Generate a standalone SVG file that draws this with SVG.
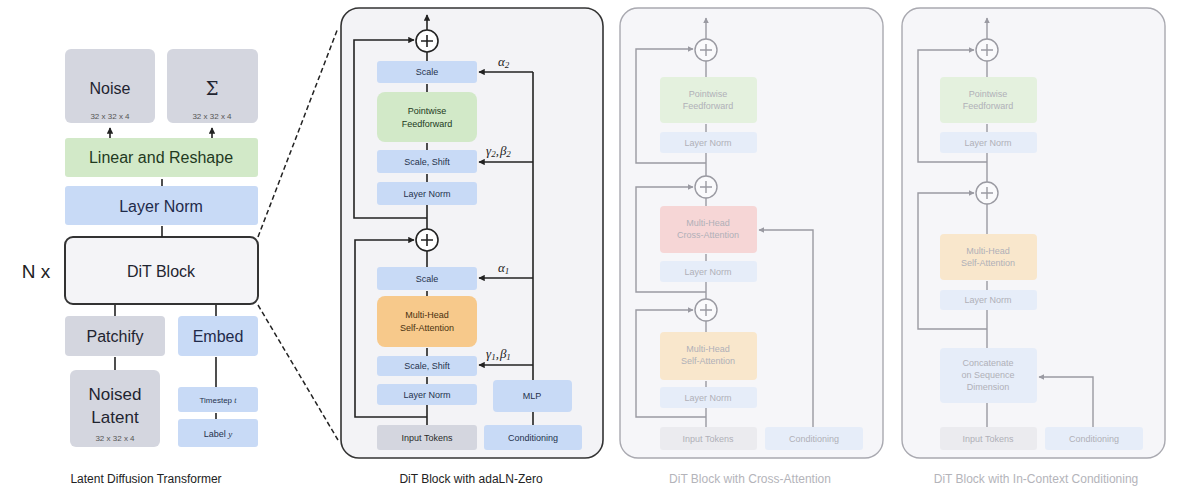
<svg xmlns="http://www.w3.org/2000/svg" width="1187" height="488" viewBox="0 0 1187 488">
  <defs>
    <marker id="ah" viewBox="0 0 10 10" refX="9" refY="5" markerWidth="4" markerHeight="4" orient="auto">
      <path d="M0,0 L10,5 L0,10 z" fill="#222"/>
    </marker>
    <marker id="ahf" viewBox="0 0 10 10" refX="9" refY="5" markerWidth="4" markerHeight="4" orient="auto">
      <path d="M0,0 L10,5 L0,10 z" fill="#9a9aa2"/>
    </marker>
    <style>
      text { font-family: "Liberation Sans", Arial, sans-serif; text-anchor: middle; }
      .gray { fill: #d4d6df; }
      .blue { fill: #c8daf6; }
      .green { fill: #d2e9c8; }
      .orange { fill: #f7c98b; }
      .big { font-size: 16px; fill: #1f2430; }
      .sz { font-size: 8px; fill: #555; }
      .sm { font-size: 9px; fill: #26324d; }
      .smd { font-size: 9px; fill: #2b2b2b; }
      .cap { font-size: 12px; fill: #222; }
      .capf { font-size: 12px; fill: #b4b4ba; }
      .ln { stroke: #222; stroke-width: 1.6; fill: none; }
      .lnf { stroke: #9a9aa2; stroke-width: 1.4; fill: none; }
      .dash { stroke: #222; stroke-width: 1.5; stroke-dasharray: 5 3; fill: none; }
      .greek { font-family: "Liberation Serif", "Times New Roman", serif; font-style: italic; font-size: 13px; fill: #222; text-anchor: start; }
      .sub { font-size: 9px; }
      .fblue { fill: #e6edf9; }
      .fgreen { fill: #e4f1de; }
      .fpink { fill: #f6d6d6; }
      .forange { fill: #f9e7cc; }
      .fgray { fill: #ebebef; }
      .ft { font-size: 9px; fill: #b0b0b8; }
      .plus { stroke: #222; stroke-width: 1.6; fill: #fff; }
      .plusf { stroke: #9a9aa2; stroke-width: 1.4; fill: #fafafc; }
    </style>
  </defs>

  <!-- ===== Latent Diffusion Transformer ===== -->
  <g id="noise">
    <rect class="gray" x="65" y="49" width="90" height="74" rx="6"/>
    <text class="big" x="110" y="94">Noise</text>
    <text class="sz" x="110" y="119">32 x 32 x 4</text>
  </g>
  <g id="sigma">
    <rect class="gray" x="167" y="49" width="91" height="74" rx="6"/>
    <text class="big" x="212" y="95" style="font-family:'DejaVu Serif',serif;font-size:18px">Σ</text>
    <text class="sz" x="212" y="119">32 x 32 x 4</text>
  </g>
  <g id="linear-reshape">
    <rect class="green" x="65" y="138" width="193" height="39" rx="3"/>
    <text class="big" x="161" y="163" style="fill:#1f3a1f">Linear and Reshape</text>
  </g>
  <g id="final-layer-norm">
    <rect class="blue" x="65" y="186" width="193" height="39" rx="3"/>
    <text class="big" x="161" y="212" style="fill:#1f2a4a">Layer Norm</text>
  </g>
  <g id="dit-block">
    <rect x="65" y="237" width="193" height="67" rx="8" fill="#f4f4f7" stroke="#333" stroke-width="2"/>
    <text class="big" x="161" y="277">DiT Block</text>
  </g>
  <g id="n-times">
    <text x="36" y="278" style="font-size:19px;fill:#222">N x</text>
  </g>
  <g id="patchify">
    <rect class="gray" x="65" y="316" width="100" height="40" rx="4"/>
    <text class="big" x="115" y="342">Patchify</text>
  </g>
  <g id="embed">
    <rect class="blue" x="178" y="316" width="80" height="40" rx="4"/>
    <text class="big" x="218" y="342" style="fill:#1f2a4a">Embed</text>
  </g>
  <g id="noised-latent">
    <rect class="gray" x="70" y="370" width="90" height="77" rx="6"/>
    <text x="115" y="400" style="font-size:17px;fill:#1f2430">Noised</text>
    <text x="115" y="423" style="font-size:17px;fill:#1f2430">Latent</text>
    <text class="sz" x="115" y="441">32 x 32 x 4</text>
  </g>
  <g id="timestep">
    <rect class="blue" x="178" y="387" width="80" height="25" rx="3"/>
    <text x="218" y="403" style="font-size:8px;fill:#26324d">Timestep <tspan style="font-family:'Liberation Serif',serif;font-style:italic">t</tspan></text>
  </g>
  <g id="label">
    <rect class="blue" x="178" y="419" width="80" height="28" rx="3"/>
    <text x="218" y="437" style="font-size:9px;fill:#26324d">Label <tspan style="font-family:'Liberation Serif',serif;font-style:italic">y</tspan></text>
  </g>
  <text class="cap" x="146" y="483">Latent Diffusion Transformer</text>

  <!-- ===== adaLN-Zero block ===== -->
  <g id="adaln-panel">
    <rect x="341" y="8" width="262" height="450" rx="18" fill="#f3f3f6" stroke="#333" stroke-width="1.6"/>
  </g>
  <g id="ada-add-2">
    <circle class="plus" cx="427" cy="41" r="11"/>
    <path d="M421,41 H433 M427,35 V47" stroke="#222" stroke-width="1.6"/>
  </g>
  <g id="ada-scale-2">
    <rect class="blue" x="377" y="61" width="100" height="22" rx="3"/>
    <text class="sm" x="427" y="75">Scale</text>
  </g>
  <g id="ada-ffn">
    <rect class="green" x="377" y="92" width="100" height="50" rx="8"/>
    <text class="smd" x="427" y="114" style="fill:#213a21">Pointwise</text>
    <text class="smd" x="427" y="127" style="fill:#213a21">Feedforward</text>
  </g>
  <g id="ada-scaleshift-2">
    <rect class="blue" x="377" y="150" width="100" height="23" rx="3"/>
    <text class="sm" x="427" y="165">Scale, Shift</text>
  </g>
  <g id="ada-ln-2">
    <rect class="blue" x="377" y="182" width="100" height="23" rx="3"/>
    <text class="sm" x="427" y="197">Layer Norm</text>
  </g>
  <g id="ada-add-1">
    <circle class="plus" cx="427" cy="240" r="11"/>
    <path d="M421,240 H433 M427,234 V246" stroke="#222" stroke-width="1.6"/>
  </g>
  <g id="ada-scale-1">
    <rect class="blue" x="377" y="267" width="100" height="23" rx="3"/>
    <text class="sm" x="427" y="282">Scale</text>
  </g>
  <g id="ada-attn">
    <rect class="orange" x="377" y="296" width="100" height="51" rx="8"/>
    <text class="smd" x="427" y="318" style="fill:#4a3210">Multi-Head</text>
    <text class="smd" x="427" y="331" style="fill:#4a3210">Self-Attention</text>
  </g>
  <g id="ada-scaleshift-1">
    <rect class="blue" x="377" y="356" width="100" height="20" rx="3"/>
    <text class="sm" x="427" y="369">Scale, Shift</text>
  </g>
  <g id="ada-ln-1">
    <rect class="blue" x="377" y="384" width="100" height="21" rx="3"/>
    <text class="sm" x="427" y="398">Layer Norm</text>
  </g>
  <g id="ada-input">
    <rect class="gray" x="377" y="425" width="100" height="25" rx="3"/>
    <text class="smd" x="427" y="441">Input Tokens</text>
  </g>
  <g id="ada-mlp">
    <rect class="blue" x="493" y="380" width="79" height="32" rx="4"/>
    <text class="sm" x="532" y="399">MLP</text>
  </g>
  <g id="ada-cond">
    <rect class="blue" x="484" y="425" width="98" height="25" rx="3"/>
    <text class="sm" x="533" y="441">Conditioning</text>
  </g>
  <g id="ada-labels">
    <text class="greek" x="498" y="66">α<tspan class="sub" dy="2">2</tspan></text>
    <text class="greek" x="486" y="155">γ<tspan class="sub" dy="2">2</tspan><tspan dy="-2">,</tspan><tspan dx="1">β</tspan><tspan class="sub" dy="2">2</tspan></text>
    <text class="greek" x="498" y="272">α<tspan class="sub" dy="2">1</tspan></text>
    <text class="greek" x="486" y="358">γ<tspan class="sub" dy="2">1</tspan><tspan dy="-2">,</tspan><tspan dx="1">β</tspan><tspan class="sub" dy="2">1</tspan></text>
  </g>
  <text class="cap" x="471" y="483">DiT Block with adaLN-Zero</text>

  <!-- ===== Cross-Attention block (faded) ===== -->
  <g id="xattn-panel">
    <rect x="620" y="8" width="263" height="450" rx="18" fill="#f6f6f9" stroke="#a9a9b0" stroke-width="1.4"/>
  </g>
  <g id="x-add-3">
    <circle class="plusf" cx="706" cy="50" r="11"/>
    <path d="M700,50 H712 M706,44 V56" stroke="#9a9aa2" stroke-width="1.4"/>
  </g>
  <g id="x-ffn">
    <rect class="fgreen" x="660" y="77" width="97" height="46" rx="4"/>
    <text class="ft" x="708" y="97">Pointwise</text>
    <text class="ft" x="708" y="109">Feedforward</text>
  </g>
  <g id="x-ln-3">
    <rect class="fblue" x="660" y="132" width="97" height="21" rx="3"/>
    <text class="ft" x="708" y="146">Layer Norm</text>
  </g>
  <g id="x-add-2">
    <circle class="plusf" cx="706" cy="187" r="11"/>
    <path d="M700,187 H712 M706,181 V193" stroke="#9a9aa2" stroke-width="1.4"/>
  </g>
  <g id="x-cross">
    <rect class="fpink" x="660" y="206" width="97" height="47" rx="4"/>
    <text class="ft" x="708" y="226">Multi-Head</text>
    <text class="ft" x="708" y="238">Cross-Attention</text>
  </g>
  <g id="x-ln-2">
    <rect class="fblue" x="660" y="261" width="97" height="21" rx="3"/>
    <text class="ft" x="708" y="275">Layer Norm</text>
  </g>
  <g id="x-add-1">
    <circle class="plusf" cx="706" cy="310" r="11"/>
    <path d="M700,310 H712 M706,304 V316" stroke="#9a9aa2" stroke-width="1.4"/>
  </g>
  <g id="x-self">
    <rect class="forange" x="660" y="332" width="97" height="48" rx="4"/>
    <text class="ft" x="708" y="352">Multi-Head</text>
    <text class="ft" x="708" y="364">Self-Attention</text>
  </g>
  <g id="x-ln-1">
    <rect class="fblue" x="660" y="387" width="97" height="21" rx="3"/>
    <text class="ft" x="708" y="401">Layer Norm</text>
  </g>
  <g id="x-input">
    <rect class="fgray" x="660" y="427" width="97" height="23" rx="3"/>
    <text class="ft" x="708" y="442">Input Tokens</text>
  </g>
  <g id="x-cond">
    <rect class="fblue" x="765" y="427" width="98" height="23" rx="3"/>
    <text class="ft" x="814" y="442">Conditioning</text>
  </g>
  <text class="capf" x="750" y="483">DiT Block with Cross-Attention</text>

  <!-- ===== In-Context Conditioning block (faded) ===== -->
  <g id="incontext-panel">
    <rect x="902" y="8" width="263" height="450" rx="18" fill="#f6f6f9" stroke="#a9a9b0" stroke-width="1.4"/>
  </g>
  <g id="c-add-2">
    <circle class="plusf" cx="987" cy="50" r="11"/>
    <path d="M981,50 H993 M987,44 V56" stroke="#9a9aa2" stroke-width="1.4"/>
  </g>
  <g id="c-ffn">
    <rect class="fgreen" x="940" y="77" width="97" height="46" rx="4"/>
    <text class="ft" x="988" y="97">Pointwise</text>
    <text class="ft" x="988" y="109">Feedforward</text>
  </g>
  <g id="c-ln-2">
    <rect class="fblue" x="940" y="132" width="97" height="21" rx="3"/>
    <text class="ft" x="988" y="146">Layer Norm</text>
  </g>
  <g id="c-add-1">
    <circle class="plusf" cx="987" cy="193" r="11"/>
    <path d="M981,193 H993 M987,187 V199" stroke="#9a9aa2" stroke-width="1.4"/>
  </g>
  <g id="c-self">
    <rect class="forange" x="940" y="234" width="97" height="46" rx="4"/>
    <text class="ft" x="988" y="254">Multi-Head</text>
    <text class="ft" x="988" y="266">Self-Attention</text>
  </g>
  <g id="c-ln-1">
    <rect class="fblue" x="940" y="290" width="97" height="20" rx="3"/>
    <text class="ft" x="988" y="303">Layer Norm</text>
  </g>
  <g id="c-concat">
    <rect class="fblue" x="940" y="348" width="97" height="55" rx="4"/>
    <text class="ft" x="988" y="366">Concatenate</text>
    <text class="ft" x="988" y="378">on Sequence</text>
    <text class="ft" x="988" y="390">Dimension</text>
  </g>
  <g id="c-input">
    <rect class="fgray" x="940" y="427" width="97" height="23" rx="3"/>
    <text class="ft" x="988" y="442">Input Tokens</text>
  </g>
  <g id="c-cond">
    <rect class="fblue" x="1045" y="427" width="98" height="23" rx="3"/>
    <text class="ft" x="1094" y="442">Conditioning</text>
  </g>
  <text class="capf" x="1036" y="483">DiT Block with In-Context Conditioning</text>

  <!-- ===== connectors ===== -->
  <g id="connectors">
    <!-- left stack -->
    <path class="ln" d="M110,138 V128" marker-end="url(#ah)"/>
    <path class="ln" d="M212,138 V128" marker-end="url(#ah)"/>
    <path class="ln" d="M162,186 V179"/>
    <path class="ln" d="M162,237 V226"/>
    <path class="ln" d="M115,316 V305"/>
    <path class="ln" d="M216,316 V305"/>
    <path class="ln" d="M115,370 V357"/>
    <path class="ln" d="M216,387 V357"/>
    <path class="ln" d="M216,419 V413"/>
    <path class="dash" d="M258,237 L338,28"/>
    <path class="dash" d="M258,305 L338,440"/>

    <!-- adaLN-Zero block -->
    <path class="ln" d="M427,30 V15" marker-end="url(#ah)"/>
    <path class="ln" d="M427,61 V52"/>
    <path class="ln" d="M427,92 V84"/>
    <path class="ln" d="M427,150 V143"/>
    <path class="ln" d="M427,182 V174"/>
    <path class="ln" d="M427,229 V205"/>
    <path class="ln" d="M427,218 H354 V40 H414" marker-end="url(#ah)"/>
    <path class="ln" d="M427,267 V251"/>
    <path class="ln" d="M427,296 V291"/>
    <path class="ln" d="M427,356 V348"/>
    <path class="ln" d="M427,384 V377"/>
    <path class="ln" d="M427,425 V405"/>
    <path class="ln" d="M427,417 H355 V240 H414" marker-end="url(#ah)"/>
    <path class="ln" d="M533,425 V412"/>
    <path class="ln" d="M533,380 V72"/>
    <path class="ln" d="M533,72 H479" marker-end="url(#ah)"/>
    <path class="ln" d="M533,162 H479" marker-end="url(#ah)"/>
    <path class="ln" d="M533,278 H479" marker-end="url(#ah)"/>
    <path class="ln" d="M533,365 H479" marker-end="url(#ah)"/>

    <!-- cross-attention block -->
    <path class="lnf" d="M706,39 V18" marker-end="url(#ahf)"/>
    <path class="lnf" d="M706,77 V61"/>
    <path class="lnf" d="M706,132 V124"/>
    <path class="lnf" d="M706,176 V153"/>
    <path class="lnf" d="M706,163 H636 V49 H693" marker-end="url(#ahf)"/>
    <path class="lnf" d="M706,206 V198"/>
    <path class="lnf" d="M706,261 V254"/>
    <path class="lnf" d="M706,299 V282"/>
    <path class="lnf" d="M706,292 H636 V187 H693" marker-end="url(#ahf)"/>
    <path class="lnf" d="M706,332 V321"/>
    <path class="lnf" d="M706,387 V381"/>
    <path class="lnf" d="M706,427 V408"/>
    <path class="lnf" d="M706,417 H636 V310 H693" marker-end="url(#ahf)"/>
    <path class="lnf" d="M813,427 V230 H759" marker-end="url(#ahf)"/>

    <!-- in-context block -->
    <path class="lnf" d="M987,39 V18" marker-end="url(#ahf)"/>
    <path class="lnf" d="M987,77 V61"/>
    <path class="lnf" d="M987,132 V124"/>
    <path class="lnf" d="M987,182 V153"/>
    <path class="lnf" d="M987,162 H918 V50 H974" marker-end="url(#ahf)"/>
    <path class="lnf" d="M987,234 V204"/>
    <path class="lnf" d="M987,290 V281"/>
    <path class="lnf" d="M987,348 V310"/>
    <path class="lnf" d="M987,329 H918 V193 H974" marker-end="url(#ahf)"/>
    <path class="lnf" d="M987,427 V403"/>
    <path class="lnf" d="M1093,427 V377 H1039" marker-end="url(#ahf)"/>
  </g>
</svg>
